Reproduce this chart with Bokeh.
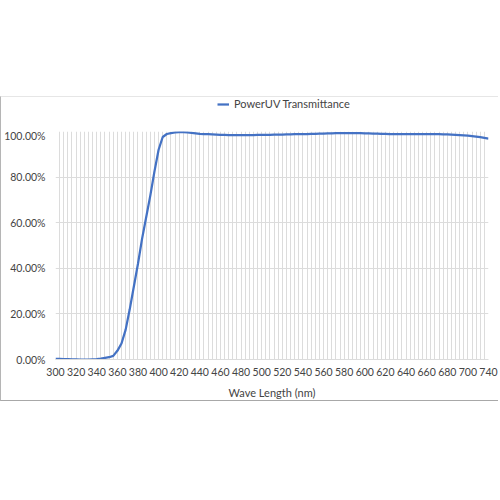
from bokeh.plotting import figure
from bokeh.models import Range1d, FixedTicker, Legend, LegendItem, Spacer
from bokeh.layouts import column
from bokeh.embed import file_html
from bokeh.resources import INLINE

# Categories (wavelengths, nm)
wavelengths = list(range(300, 704, 4)) + [708, 716, 724, 732, 740]

# Series values (% transmittance)
transmittance = [
    0.3, 0.3, 0.2, 0.2, 0.1, 0.1, 0.0, 0.0, 0.0, 0.1,   # 300-336
    0.2, 0.4, 0.7, 1.0, 1.6, 3.8, 7.0, 13.0, 22.0, 32.0,  # 340-376
    42.0, 53.0, 62.5, 72.0, 82.5, 92.0, 97.6, 98.9, 99.3, 99.6,  # 380-416
    99.7, 99.7, 99.6, 99.4, 99.2, 99.0, 98.9, 98.8, 98.7, 98.6,  # 420-456
    98.5, 98.5, 98.4, 98.4, 98.4, 98.4, 98.4, 98.4, 98.4, 98.5,  # 460-496
    98.5, 98.5, 98.5, 98.6, 98.6, 98.6, 98.7, 98.7, 98.8, 98.8,  # 500-536
    98.9, 98.9, 99.0, 99.0, 99.1, 99.1, 99.2, 99.2, 99.3, 99.3,  # 540-576
    99.3, 99.3, 99.3, 99.3, 99.3, 99.2, 99.2, 99.1, 99.1, 99.0,  # 580-616
    99.0, 98.9, 98.9, 98.9, 98.8, 98.8, 98.8, 98.8, 98.8, 98.8,  # 620-656
    98.8, 98.8, 98.8, 98.8, 98.7, 98.7, 98.6, 98.5, 98.4, 98.3,  # 660-696
    98.2, 98.0, 97.8, 97.5, 97.2, 96.9,                           # 700-740
]

y_ticks = [0, 20, 40, 60, 80, 100]
series_name = "PowerUV Transmittance"
x_title = "Wave Length (nm)"

FONT = "Lato"
TEXT_COLOR = "#444444"
GRID_COLOR = "#dcdcdc"
LINE_COLOR = "#4472C4"
W = 498
BL, BR = 53, 11

idx = list(range(len(wavelengths)))
last = len(wavelengths) - 1

# ---- legend strip (top of the chart box) ----
leg_fig = figure(
    width=W, height=33, x_range=Range1d(0, 1), y_range=Range1d(-10, -9),
    output_backend="svg", toolbar_location=None,
    x_axis_type=None, y_axis_type=None,
    min_border_left=BL, min_border_right=BR,
    min_border_top=0, min_border_bottom=0,
)
leg_fig.outline_line_color = None
leg_fig.grid.visible = False
# same series, kept out of view: only its legend glyph is shown here
leg_r = leg_fig.line(idx, transmittance, line_color=LINE_COLOR, line_width=2.25)
legend = Legend(
    items=[LegendItem(label=series_name, renderers=[leg_r])],
    location=(215 - BL, 20), orientation="horizontal",
    padding=0, margin=0, spacing=0,
    border_line_color=None, background_fill_alpha=0,
    glyph_width=12, glyph_height=12, label_standoff=5,
    label_text_font=FONT, label_text_font_size="11px",
    label_text_color=TEXT_COLOR,
)
leg_fig.add_layout(legend)
leg_fig.styles = {
    "border-top": "1px solid #e6e6e6",
    "border-left": "1px solid #b5b5b5",
}

# ---- main chart ----
p = figure(
    width=W, height=272,
    x_range=Range1d(0, last), y_range=Range1d(0, 100),
    output_backend="svg", toolbar_location=None,
    min_border_left=BL, min_border_right=BR,
    min_border_top=2, min_border_bottom=42,
)
p.outline_line_color = None

p.line(idx, transmittance, line_color=LINE_COLOR, line_width=2.25)

# x axis (category style: labels every 5th point)
label_idx = list(range(0, len(wavelengths), 5))
p.xaxis.ticker = FixedTicker(ticks=label_idx)
p.xaxis.major_label_overrides = {i: str(wavelengths[i]) for i in label_idx}
p.xaxis.axis_label = x_title
p.xaxis.axis_line_color = GRID_COLOR
p.xaxis.major_tick_line_color = None
p.xaxis.minor_tick_line_color = None
p.xaxis.major_tick_out = 0
p.xaxis.major_tick_in = 0
p.xaxis.major_label_standoff = 8
p.xaxis.axis_label_standoff = 7
p.xgrid.ticker = FixedTicker(ticks=idx)
p.xgrid.grid_line_color = GRID_COLOR

# y axis
p.yaxis.ticker = FixedTicker(ticks=y_ticks)
p.yaxis.major_label_overrides = {v: f"{v:.2f}%" for v in y_ticks}
p.yaxis.axis_line_color = None
p.yaxis.major_tick_line_color = None
p.yaxis.minor_tick_line_color = None
p.yaxis.major_tick_out = 0
p.yaxis.major_tick_in = 0
p.yaxis.major_label_standoff = 10
p.ygrid.grid_line_color = GRID_COLOR

for ax in (p.xaxis[0], p.yaxis[0]):
    ax.major_label_text_font = FONT
    ax.major_label_text_font_size = "10.5px"
    ax.major_label_text_color = TEXT_COLOR
    ax.axis_label_text_font = FONT
    ax.axis_label_text_font_size = "11px"
    ax.axis_label_text_font_style = "normal"
    ax.axis_label_text_color = TEXT_COLOR

p.styles = {
    "border-left": "1px solid #b5b5b5",
    "border-bottom": "1px solid #a8a8a8",
}

layout = column(Spacer(height=96), leg_fig, p)

open("out.html", "w").write(file_html(layout, INLINE))
